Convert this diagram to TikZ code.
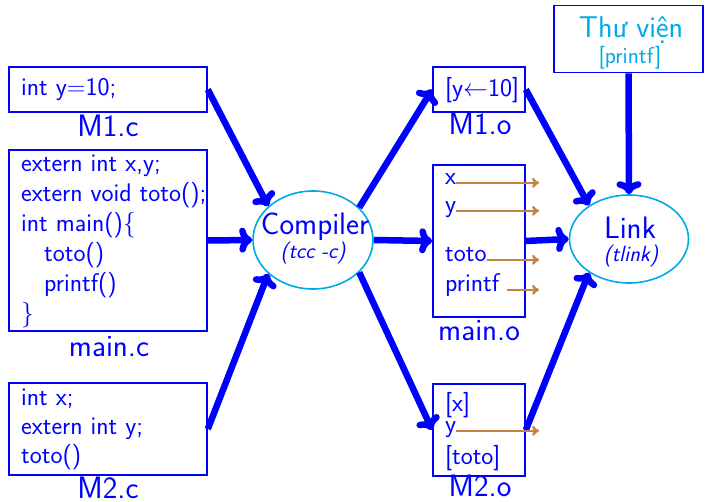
\documentclass[tikz,border=0pt]{standalone}
\usepackage{fontspec}
\usetikzlibrary{arrows.meta,shapes.geometric}
\definecolor{cblue}{RGB}{0,0,255}
\definecolor{ccyan}{RGB}{0,170,230}
\definecolor{cbrown}{RGB}{195,130,70}
\newcommand{\fsz}[1]{\fontsize{#1}{#1}\selectfont}
\begin{document}
\begin{tikzpicture}[x=1pt,y=-1pt,
  box/.style={draw=cblue, line width=1.6pt, inner sep=0pt},
  txt/.style={text=cblue, inner sep=0pt, anchor=base west, font=\sffamily\fsz{25.5}},
  lbl/.style={text=cblue, inner sep=0pt, anchor=base, font=\sffamily\fsz{31}},
  oval/.style={ellipse, draw=ccyan, line width=1.6pt, inner sep=0pt},
  barrow/.style={draw=cblue, line width=6.5pt, -{To[length=13pt,width=25pt]}},
  brarrow/.style={draw=cbrown, line width=2.5pt, -{To[length=7pt,width=10pt]}}]
\path[use as bounding box] (0,0) rectangle (705,502);
% boxes
\node[box, minimum width=198pt, minimum height=45pt] (m1c) at (108,89.5) {};
\node[box, minimum width=198pt, minimum height=181pt] (mainc) at (108,240.5) {};
\node[box, minimum width=198pt, minimum height=92pt] (m2c) at (108,429) {};
\node[box, minimum width=92pt, minimum height=45pt] (m1o) at (479,89.5) {};
\node[box, minimum width=92pt, minimum height=152pt] (maino) at (479,241) {};
\node[box, minimum width=92pt, minimum height=92pt] (m2o) at (479,430) {};
\node[box, minimum width=149pt, minimum height=67pt] (lib) at (628.5,39) {};
% ellipses
\node[oval, minimum width=120pt, minimum height=98pt] (comp) at (313,240) {};
\node[oval, minimum width=119pt, minimum height=88pt] (link) at (629,239) {};
% source texts
\node[txt] (a1) at (21,96) {int y=10;};
\node[txt] (b1) at (21,171.7) {extern int x,y;};
\node[txt] (b2) at (21,201.7) {extern void toto();};
\node[txt] (b3) at (21,231.7) {int main()\{};
\node[txt] (b4) at (44,262) {toto()};
\node[txt] (b5) at (44,292) {printf()};
\node[txt] (b6) at (21,322) {\}};
\node[txt] (c1) at (21,406) {int x;};
\node[txt] (c2) at (21,435) {extern int y;};
\node[txt] (c3) at (21,464) {toto()};
% labels
\node[lbl] (l1) at (108,136.7) {M1.c};
\node[lbl] (l2) at (109,356.7) {main.c};
\node[lbl] (l3) at (108,499) {M2.c};
\node[lbl] (l4) at (480,135) {M1.o};
\node[lbl] (l5) at (479,341) {main.o};
\node[lbl] (l6) at (480,497) {M2.o};
% object texts
\node[txt] (o1) at (445,97) {[y$\leftarrow$10]};
\node[txt] (mx) at (445,185) {x};
\node[txt] (my) at (445,213) {y};
\node[txt] (mt) at (445,262) {toto};
\node[txt] (mp) at (445,292) {printf};
\node[txt] (n1) at (445,412) {[x]};
\node[txt] (ny) at (445,433) {y};
\node[txt] (n3) at (445,465) {[toto]};
% ellipse / lib texts
\node[text=cblue, inner sep=0pt, anchor=base, font=\sffamily\fsz{31}] (ct) at (315,235) {Compiler};
\node[text=cblue, inner sep=0pt, anchor=base, font=\sffamily\itshape\fsz{22}] (cs) at (313,259) {(tcc -c)};
\node[text=cblue, inner sep=0pt, anchor=base, font=\sffamily\fsz{31}] (lt) at (630,239) {Link};
\node[text=cblue, inner sep=0pt, anchor=base, font=\sffamily\itshape\fsz{22}] (ls) at (631,262) {(tlink)};
\node[text=ccyan, inner sep=0pt, anchor=base, font=\sffamily\fsz{30}] (vt) at (631,38) {Thư viện};
\node[text=ccyan, inner sep=0pt, anchor=base, font=\sffamily\fsz{23}] (vs) at (630,64) {[printf]};
% end points of the brown arrows
\coordinate (ex) at (539,0);
% blue arrows
\draw[barrow] (m1c.east) -- (comp.143);
\draw[barrow] (mainc.east) -- (comp.west);
\draw[barrow] (m2c.east) -- (comp.217);
\draw[barrow] (comp.35) -- (m1o.west);
\draw[barrow] (comp.east) -- (maino.west);
\draw[barrow] (comp.-35) -- (m2o.west);
\draw[barrow] (m1o.east) -- (link.140);
\draw[barrow] (maino.east) -- (link.west);
\draw[barrow] (m2o.east) -- (link.220);
\draw[barrow] (lib.south) -- (link.north);
% brown arrows
\draw[brarrow] (mx.mid east) -- (mx.mid east -| ex);
\draw[brarrow] (my.mid east) -- (my.mid east -| ex);
\draw[brarrow] (mt.mid east) -- (mt.mid east -| ex);
\draw[brarrow] ([xshift=8pt]mp.mid east) -- (mp.mid east -| ex);
\draw[brarrow] (ny.mid east) -- (ny.mid east -| ex);
\end{tikzpicture}
\end{document}
